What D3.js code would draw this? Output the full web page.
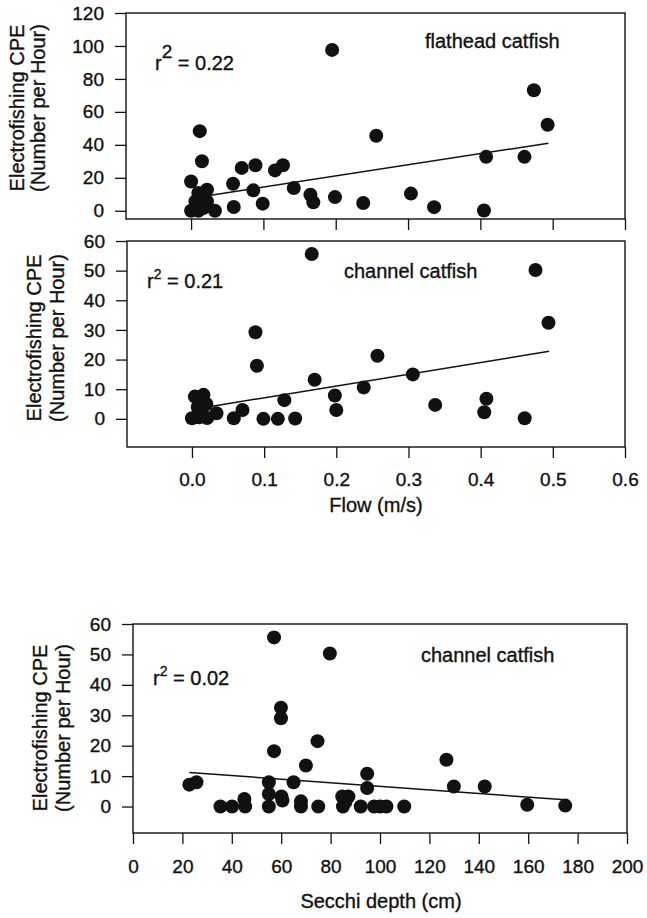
<!DOCTYPE html>
<html>
<head>
<meta charset="utf-8">
<script src="https://cdn.jsdelivr.net/npm/d3@7/dist/d3.min.js"></script>
<style>
  body { margin: 0; background: #fff; }
  svg text { font-family: "Liberation Sans", Arial, Helvetica, sans-serif; fill: #111; stroke: #111; stroke-width: 0.35px; }
</style>
</head>
<body>
<div id="chart"></div>
<script>
// flathead catfish vs flow
const flowFlathead = [0.000, 0.012, 0.015, 0.022, 0.010, 0.006, 0.015, 0.000, 0.010, 0.022, 0.033, 0.017,
    0.058, 0.059, 0.070, 0.089, 0.086, 0.099, 0.116, 0.127, 0.142, 0.165, 0.169, 0.195, 0.199,
    0.238, 0.256, 0.304, 0.336, 0.405, 0.408, 0.461, 0.474, 0.493];
const cpeFlathead = [17.8, 48.3, 30.0, 12.8, 10.8, 5.7, 6.7, 0.0, 0.0, 5.7, 0.0, 1.6,
    16.4, 2.3, 26.0, 27.6, 12.4, 4.3, 24.5, 27.6, 13.8, 9.7, 5.1, 97.6, 8.3,
    4.7, 45.5, 10.4, 2.2, 0.2, 32.7, 32.7, 73.1, 52.2];

// channel catfish vs flow
const flowChannel = [0.000, 0.004, 0.016, 0.010, 0.014, 0.008, 0.020, 0.021, 0.034, 0.058, 0.070,
    0.088, 0.090, 0.099, 0.119, 0.128, 0.143, 0.166, 0.170, 0.198, 0.200, 0.238, 0.257,
    0.306, 0.337, 0.405, 0.408, 0.461, 0.476, 0.494];
const cpeChannel = [0.2, 7.5, 8.1, 0.5, 3.5, 4.0, 5.0, 0.3, 1.9, 0.2, 3.0,
    29.2, 17.9, 0.0, 0.0, 6.3, 0.1, 55.6, 13.2, 7.9, 3.0, 10.6, 21.3,
    15.0, 4.7, 2.2, 6.8, 0.2, 50.2, 32.4];

// channel catfish vs secchi depth
const secchiDepth = [22.8, 25.7, 35.4, 40.1, 45.1, 45.4, 55.0, 55.0, 55.0, 57.1, 57.1, 59.9, 59.9, 60.1, 60.5,
    65.0, 68.0, 68.0, 70.0, 74.7, 75.0, 79.7, 84.7, 85.0, 86.0, 87.2, 92.2, 94.8, 94.8, 97.6, 100.1,
    102.6, 109.8, 126.9, 129.9, 142.4, 159.6, 175.0];
const cpeSecchi = [7.2, 8.0, 0.0, 0.0, 2.5, 0.0, 8.0, 4.1, 0.0, 55.6, 18.2, 32.5, 29.0, 3.3, 2.0,
    8.0, 1.7, 0.0, 13.5, 21.5, 0.0, 50.3, 3.3, 0.0, 1.5, 3.3, 0.0, 10.8, 6.1, 0.0, 0.0,
    0.0, 0.0, 15.4, 6.6, 6.6, 0.6, 0.3];

// regression line end points
const fitFlatheadX = [0.025, 0.494], fitFlatheadY = [9.3, 41.0];
const fitChannelX = [0.024, 0.495], fitChannelY = [4.1, 22.8];
const fitSecchiX = [22.8, 175.0], fitSecchiY = [11.2, 2.2];

// ticks
const flowTicks = [0, 0.1, 0.2, 0.3, 0.4, 0.5, 0.6];
const secchiTicks = [0, 20, 40, 60, 80, 100, 120, 140, 160, 180, 200];
const flatheadYTicks = [0, 20, 40, 60, 80, 100, 120];
const channelYTicks = [0, 10, 20, 30, 40, 50, 60];

const r2Labels = ["0.22", "0.21", "0.02"];
const speciesLabels = ["flathead catfish", "channel catfish", "channel catfish"];

const W = 647, H = 918;
const svg = d3.select("#chart").append("svg")
    .attr("width", W)
    .attr("height", H);

function drawPanel(p) {
    const x = d3.scaleLinear().domain(p.xDomain).range([p.left, p.right]);
    const y = d3.scaleLinear().domain(p.yDomain).range([p.bottom, p.top]);
    const g = svg.append("g");

    // marco
    g.append("rect")
        .attr("x", p.left).attr("y", p.top)
        .attr("width", p.right - p.left).attr("height", p.bottom - p.top)
        .attr("fill", "none").attr("stroke", "#111").attr("stroke-width", 1.4);

    // eje y
    const ya = g.append("g")
        .attr("transform", `translate(${p.left},0)`)
        .call(d3.axisLeft(y).tickValues(p.yTicks).tickSize(11).tickPadding(11));
    ya.select(".domain").remove();
    ya.selectAll("line").attr("stroke", "#111").attr("stroke-width", 1.3);
    ya.selectAll("text").style("font-size", "19px").attr("fill", "#111");

    // eje x
    const xa = g.append("g")
        .attr("transform", `translate(0,${p.bottom})`)
        .call(d3.axisBottom(x).tickValues(p.xTicks).tickSize(11).tickPadding(p.xPad)
            .tickFormat(p.xLabels ? p.xFormat : () => ""));
    xa.select(".domain").remove();
    xa.selectAll("line").attr("stroke", "#111").attr("stroke-width", 1.3);
    xa.selectAll("text").style("font-size", "19px").attr("fill", "#111");

    // recta de regresión
    g.append("line")
        .attr("x1", x(p.fitX[0])).attr("y1", y(p.fitY[0]))
        .attr("x2", x(p.fitX[1])).attr("y2", y(p.fitY[1]))
        .attr("stroke", "#111").attr("stroke-width", 1.5);

    // puntos
    g.selectAll(".dot")
        .data(p.xs.map((v, i) => [v, p.ys[i]]))
        .enter().append("circle")
        .attr("class", "dot")
        .attr("cx", d => x(d[0]))
        .attr("cy", d => y(d[1]))
        .attr("r", 7)
        .attr("fill", "#111");

    // título eje y (dos líneas)
    g.append("text")
        .attr("transform", `translate(${p.titleX[0]},${p.titleY}) rotate(-90)`)
        .attr("text-anchor", "middle").attr("dy", "0.35em")
        .style("font-size", "20px")
        .text("Electrofishing CPE");
    g.append("text")
        .attr("transform", `translate(${p.titleX[1]},${p.titleY}) rotate(-90)`)
        .attr("text-anchor", "middle").attr("dy", "0.35em")
        .style("font-size", "20px")
        .text("(Number per Hour)");

    // r^2
    const rt = g.append("text")
        .attr("x", p.r2[0]).attr("y", p.r2[1])
        .style("font-size", "20px");
    rt.append("tspan").text("r");
    rt.append("tspan").attr("dy", -p.supRise).style("font-size", p.supSize + "px").text("2");
    rt.append("tspan").attr("dy", p.supRise).text(" = " + p.r2Label);

    // especie
    g.append("text")
        .attr("x", p.sp[0]).attr("y", p.sp[1])
        .style("font-size", "20px")
        .text(p.species);

    if (p.xTitle) {
        g.append("text")
            .attr("x", p.xTitle[0]).attr("y", p.xTitle[1])
            .attr("text-anchor", "middle")
            .style("font-size", "20px")
            .text(p.xTitle[2]);
    }
}

drawPanel({
    left: 126, right: 625, top: 13, bottom: 219,
    xDomain: [-0.09, 0.6], yDomain: [-5, 120],
    xTicks: flowTicks, yTicks: flatheadYTicks, xLabels: false, xPad: 15,
    xs: flowFlathead, ys: cpeFlathead, fitX: fitFlatheadX, fitY: fitFlatheadY,
    titleX: [17, 38], titleY: 108,
    r2: [155, 70], r2Label: r2Labels[0], supRise: 12, supSize: 19,
    sp: [425, 48], species: speciesLabels[0]
});

drawPanel({
    left: 127, right: 625, top: 241, bottom: 447,
    xDomain: [-0.09, 0.6], yDomain: [-9.5, 60],
    xTicks: flowTicks, yTicks: channelYTicks, xLabels: true, xFormat: d3.format(".1f"), xPad: 15,
    xs: flowChannel, ys: cpeChannel, fitX: fitChannelX, fitY: fitChannelY,
    titleX: [34, 57], titleY: 338,
    r2: [147, 288], r2Label: r2Labels[1], supRise: 9, supSize: 14,
    sp: [344, 278], species: speciesLabels[1],
    xTitle: [376, 512, "Flow (m/s)"]
});

drawPanel({
    left: 133, right: 627, top: 624, bottom: 833,
    xDomain: [0, 200], yDomain: [-8.7, 60],
    xTicks: secchiTicks, yTicks: channelYTicks, xLabels: true, xFormat: d3.format("d"), xPad: 16,
    xs: secchiDepth, ys: cpeSecchi, fitX: fitSecchiX, fitY: fitSecchiY,
    titleX: [40, 63], titleY: 728,
    r2: [153, 685], r2Label: r2Labels[2], supRise: 9, supSize: 14,
    sp: [421, 662], species: speciesLabels[2],
    xTitle: [381, 908, "Secchi depth (cm)"]
});
</script>
</body>
</html>
